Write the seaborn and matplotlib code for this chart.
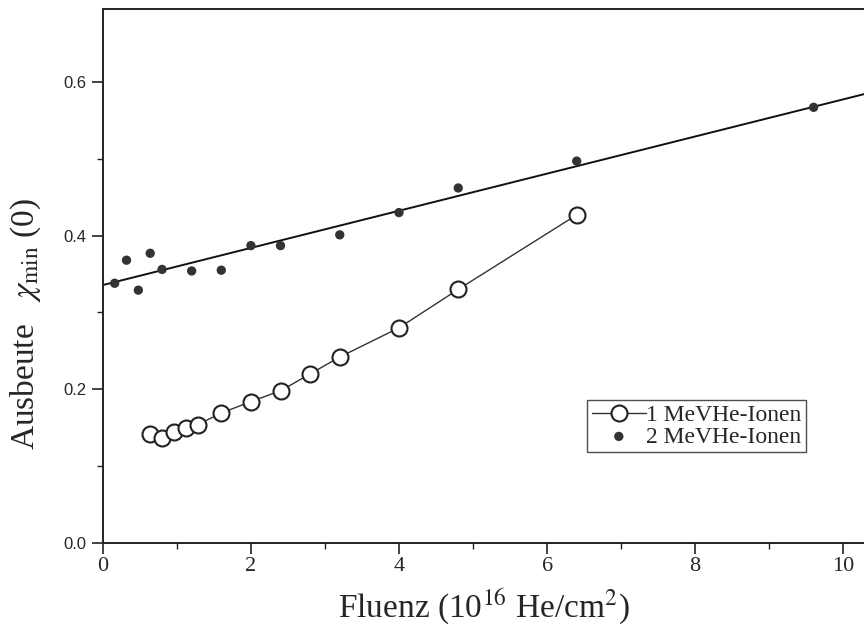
import numpy as np
import pandas as pd
import matplotlib
matplotlib.use("Agg")
import matplotlib.pyplot as plt
from matplotlib.ticker import MultipleLocator
import seaborn as sns

# ---- data ----
fluence_1mev = [0.64, 0.80, 0.96, 1.12, 1.28, 1.60, 2.00, 2.40, 2.80, 3.20, 4.00, 4.80, 6.40]
chi_1mev = [0.142, 0.136, 0.144, 0.150, 0.154, 0.169, 0.184, 0.198, 0.220, 0.242, 0.280, 0.330, 0.427]

fluence_2mev = [0.16, 0.32, 0.48, 0.64, 0.80, 1.20, 1.60, 2.00, 2.40, 3.20, 4.00, 4.80, 6.40, 9.60]
chi_2mev = [0.338, 0.368, 0.329, 0.377, 0.356, 0.354, 0.355, 0.387, 0.387, 0.401, 0.430, 0.462, 0.497, 0.567]

label_1mev = "1 MeVHe-Ionen"
label_2mev = "2 MeVHe-Ionen"
x_ticks = [0, 2, 4, 6, 8, 10]
y_ticks = [0.0, 0.2, 0.4, 0.6]

df1 = pd.DataFrame({"x": fluence_1mev, "y": chi_1mev})
df2 = pd.DataFrame({"x": fluence_2mev, "y": chi_2mev})

sns.set_style("white")
plt.rcParams["font.family"] = ["Liberation Serif", "DejaVu Serif"]
plt.rcParams["mathtext.fontset"] = "stix"

fig = plt.figure(figsize=(8.64, 6.41), dpi=100)
ax = fig.add_axes([0.119, 0.153, 0.881, 0.833])
ax.set_xlim(0, 10.28)
ax.set_ylim(0, 0.695)

# linear fit through 2 MeV data, spanning the full axis
sns.regplot(data=df2, x="x", y="y", scatter=False, ci=None, truncate=False,
            line_kws=dict(color="#111111", lw=1.4), ax=ax)

sns.lineplot(data=df1, x="x", y="y", ax=ax, color="#333333", lw=1.0,
             marker="o", markersize=11.5, markerfacecolor="white",
             markeredgecolor="#222222", markeredgewidth=1.5, label=label_1mev,
             zorder=3)
sns.scatterplot(data=df2, x="x", y="y", ax=ax, color="#333333", s=45,
                edgecolor="none", label=label_2mev, zorder=4)

ax.set_xlim(0, 10.28)
ax.set_ylim(0, 0.695)

ax.set_xticks(x_ticks)
ax.set_yticks(y_ticks)
ax.xaxis.set_minor_locator(MultipleLocator(1))
ax.yaxis.set_minor_locator(MultipleLocator(0.1))
ax.tick_params(axis="both", which="major", direction="out", length=8, width=1.2,
               color="#222222", bottom=True, left=True)
ax.tick_params(axis="both", which="minor", direction="out", length=4, width=1.0,
               color="#222222", bottom=True, left=True)
ax.tick_params(axis="x", labelsize=16, pad=2)
ax.tick_params(axis="y", pad=4)
ax.set_yticklabels([f"{v:.1f}" for v in y_ticks],
                   fontfamily=["Liberation Sans", "DejaVu Sans"], fontsize=12)

for side in ["left", "top", "bottom"]:
    ax.spines[side].set_visible(True)
    ax.spines[side].set_color("#222222")
    ax.spines[side].set_linewidth(1.4)
ax.spines["right"].set_visible(False)

ax.set_xlabel("Fluenz (10$^{16}$ He/cm$^{2}$)", fontsize=24, labelpad=8)
ax.set_ylabel("Ausbeute   $\\chi_{\\rm min}$ (0)", fontsize=24)
ax.yaxis.set_label_coords(-0.079, 0.41)

h, l = ax.get_legend_handles_labels()
leg = ax.legend(h, l, loc="upper left", bbox_to_anchor=(0.636, 0.268),
                frameon=True, fancybox=False, fontsize=17, borderpad=0.2,
                handlelength=2.3, handletextpad=0.0, labelspacing=0.0,
                borderaxespad=0.0, edgecolor="#222222")
leg.get_frame().set_linewidth(1.0)

fig.savefig("out.png", dpi=100)
